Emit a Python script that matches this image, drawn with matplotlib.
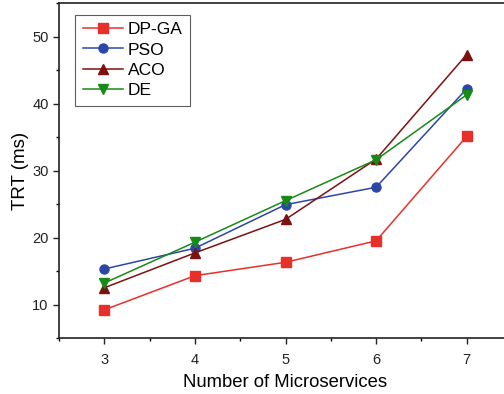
import matplotlib
matplotlib.use("Agg")
import matplotlib.pyplot as plt
from matplotlib.ticker import MultipleLocator

plt.rcParams['font.family'] = ['Liberation Sans', 'DejaVu Sans']

# data
microservices = [3, 4, 5, 6, 7]
dp_ga = [9.2, 14.3, 16.3, 19.5, 35.1]
pso = [15.3, 18.4, 24.9, 27.5, 42.2]
aco = [12.5, 17.7, 22.7, 31.7, 47.3]
de = [13.2, 19.3, 25.5, 31.6, 41.3]

series = [
    ("DP-GA", dp_ga, "#e8302a", "s"),
    ("PSO", pso, "#2c46a8", "o"),
    ("ACO", aco, "#7d1010", "^"),
    ("DE", de, "#178a17", "v"),
]

fig = plt.figure(figsize=(5.04, 3.94), dpi=100)
# the original is cropped on the right, so the axes run past the figure edge
ax = fig.add_axes([59 / 504, 56 / 394, 453 / 504, 335 / 394])

for name, vals, color, marker in series:
    ax.plot(microservices, vals, color=color, marker=marker, markersize=6.5,
            linewidth=1.1, label=name)

ax.set_xlim(2.5, 7.5)
ax.set_ylim(5, 55)
ax.xaxis.set_major_locator(MultipleLocator(1))
ax.xaxis.set_minor_locator(MultipleLocator(0.5))
ax.yaxis.set_major_locator(MultipleLocator(10))
ax.yaxis.set_minor_locator(MultipleLocator(5))
ax.set_yticks([10, 20, 30, 40, 50])

ax.tick_params(which="major", direction="out", length=4.5, width=1, labelsize=10.5,
               colors="#222222", pad=3)
ax.tick_params(which="minor", direction="out", length=2.5, width=1)
ax.tick_params(axis="x", pad=6)

for side in ("left", "bottom", "top"):
    ax.spines[side].set_linewidth(1.2)
    ax.spines[side].set_color("#222222")
ax.spines["right"].set_visible(False)

ax.set_xlabel("Number of Microservices", fontsize=13.3, labelpad=5)
ax.set_ylabel("TRT (ms)", fontsize=13.5, labelpad=2)

leg = ax.legend(loc="upper left", bbox_to_anchor=(0.036, 0.965), fontsize=12.5,
                frameon=True, fancybox=False, edgecolor="#333333",
                handlelength=2.3, handletextpad=0.3, borderpad=0.42,
                labelspacing=0.3, borderaxespad=0)
leg.get_frame().set_linewidth(0.8)

fig.savefig("out.png", dpi=100)
